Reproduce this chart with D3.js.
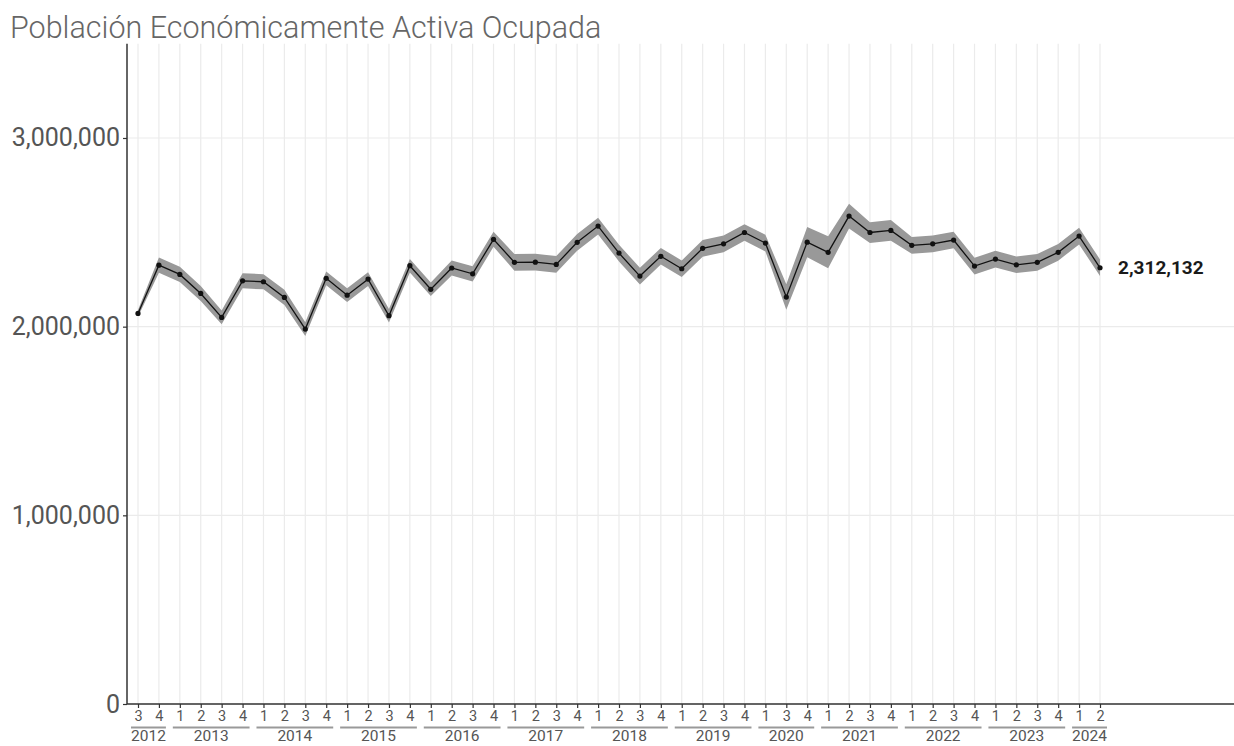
<!DOCTYPE html>
<html>
<head>
<meta charset="utf-8">
<script src="https://cdn.jsdelivr.net/npm/d3@7"></script>
<style>
html,body{margin:0;padding:0;background:#fff;}
svg{display:block;font-family:Roboto,"Noto Sans",sans-serif;}
</style>
</head>
<body>
<svg id="chart" width="1234" height="746"></svg>
<script>
const years    = [2012,2012,2013,2013,2013,2013,2014,2014,2014,2014,2015,2015,2015,2015,2016,2016,2016,2016,2017,2017,2017,2017,2018,2018,2018,2018,2019,2019,2019,2019,2020,2020,2020,2021,2021,2021,2021,2022,2022,2022,2022,2023,2023,2023,2023,2024,2024];
const quarters = [3,4,1,2,3,4,1,2,3,4,1,2,3,4,1,2,3,4,1,2,3,4,1,2,3,4,1,2,3,4,1,3,4,1,2,3,4,1,2,3,4,1,2,3,4,1,2];
const values   = [2070000,2326000,2277000,2176000,2049000,2243000,2238000,2155000,1987000,2256000,2167000,2252000,2058000,2323000,2198000,2311000,2280000,2463000,2341000,2342000,2330000,2447000,2533000,2390000,2268000,2373000,2307000,2415000,2439000,2499000,2443000,2157000,2448000,2394000,2586000,2499000,2510000,2431000,2439000,2459000,2321000,2358000,2328000,2341000,2394000,2480000,2312132];
const ciHalf   = [18000,40000,40000,40000,36000,40000,40000,40000,36000,36000,36000,36000,36000,36000,36000,40000,40000,40000,44000,44000,44000,44000,44000,44000,44000,44000,44000,44000,44000,44000,44000,68000,80000,85000,66000,55000,55000,44000,44000,44000,44000,44000,44000,44000,44000,44000,44000];
const yTicks   = [0,1000000,2000000,3000000];
const title    = "Población Económicamente Activa Ocupada";

const data = values.map((v,i)=>({key:years[i]+"-"+quarters[i], year:years[i], q:quarters[i], v:v, lo:v-ciHalf[i], hi:v+ciHalf[i]}));

const svg = d3.select("#chart");
const x0 = 127, xEnd = 1234, yBottom = 704;
const x = d3.scalePoint().domain(data.map(d=>d.key)).range([138,1100]);
const y = d3.scaleLinear().domain([0,3500000]).range([yBottom, yBottom-3.5*188.67]);

// gridlines
const g = svg.append("g");
g.selectAll(".vg").data(data).join("line")
  .attr("x1",d=>x(d.key)).attr("x2",d=>x(d.key))
  .attr("y1",y(3500000)).attr("y2",yBottom)
  .attr("stroke","#ebebeb").attr("stroke-width",1.2);
g.selectAll(".hg").data(yTicks).join("line")
  .attr("x1",x0).attr("x2",xEnd)
  .attr("y1",d=>y(d)).attr("y2",d=>y(d))
  .attr("stroke","#ebebeb").attr("stroke-width",1.2);

// band
svg.append("path").datum(data)
  .attr("d", d3.area().x(d=>x(d.key)).y0(d=>y(d.lo)).y1(d=>y(d.hi)))
  .attr("fill","#999999");

// line
svg.append("path").datum(data)
  .attr("d", d3.line().x(d=>x(d.key)).y(d=>y(d.v)))
  .attr("fill","none").attr("stroke","#111").attr("stroke-width",1.3);

// points
svg.selectAll(".pt").data(data).join("circle")
  .attr("cx",d=>x(d.key)).attr("cy",d=>y(d.v)).attr("r",2.6).attr("fill","#111");

// last label
const last = data[data.length-1];
svg.append("text").attr("x",x(last.key)+18).attr("y",y(last.v)).attr("dy","0.35em")
  .attr("font-size",19).attr("font-weight","bold").attr("fill","#1a1a1a")
  .text(d3.format(",")(last.v));

// y axis
const yAxis = svg.append("g").attr("transform",`translate(${x0},0)`)
  .call(d3.axisLeft(y).tickValues(yTicks).tickFormat(d3.format(",")).tickSize(4).tickPadding(3));
yAxis.select(".domain").remove();
yAxis.selectAll(".tick line").attr("stroke","#333").attr("stroke-width",1.2);
yAxis.selectAll(".tick text").attr("font-size",25).attr("fill","#555").attr("font-family","Roboto");
svg.append("line").attr("x1",x0).attr("x2",x0).attr("y1",y(3500000)).attr("y2",yBottom)
  .attr("stroke","#333").attr("stroke-width",1.5);

// x axis
const xAxis = svg.append("g").attr("transform",`translate(0,${yBottom})`)
  .call(d3.axisBottom(x).tickFormat((k,i)=>quarters[i]).tickSize(4).tickPadding(3));
xAxis.select(".domain").remove();
xAxis.selectAll(".tick line").attr("stroke","#333").attr("stroke-width",1.2);
xAxis.selectAll(".tick text").attr("font-size",14.5).attr("fill","#555").attr("font-family","Roboto");
svg.append("line").attr("x1",x0).attr("x2",xEnd).attr("y1",yBottom).attr("y2",yBottom)
  .attr("stroke","#333").attr("stroke-width",1.5);

// year groups
const yearGroups = d3.groups(data, d=>d.year).map(([yr,arr])=>({yr, a:x(arr[0].key), b:x(arr[arr.length-1].key)}));
svg.selectAll(".yl").data(yearGroups).join("line")
  .attr("x1",d=>d.a-7).attr("x2",d=>d.b+7).attr("y1",727.5).attr("y2",727.5)
  .attr("stroke","#999").attr("stroke-width",2.2);
svg.selectAll(".yt").data(yearGroups).join("text")
  .attr("x",d=>(d.a+d.b)/2).attr("y",741).attr("text-anchor","middle")
  .attr("font-size",15.5).attr("fill","#555").text(d=>d.yr);

// title
svg.append("text").attr("x",10).attr("y",38).attr("font-size",30.5).attr("font-weight",300).attr("fill","#666")
  .text(title);
</script>
</body>
</html>
